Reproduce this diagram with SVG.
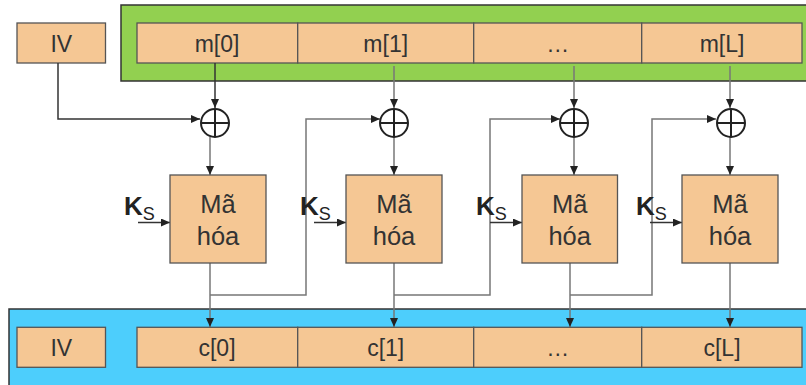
<svg xmlns="http://www.w3.org/2000/svg" width="806" height="385" viewBox="0 0 806 385">
<style>
.cell{fill:#F5C794;stroke:#555;stroke-width:1.3}
.t{font-family:"Liberation Sans",Arial,sans-serif;font-size:23px;fill:#333;text-anchor:middle}
.bt{font-family:"Liberation Sans",Arial,sans-serif;font-size:25.5px;fill:#333;text-anchor:middle}
.k{font-family:"Liberation Sans",Arial,sans-serif;fill:#222}
.ln{fill:none;stroke:#777;stroke-width:1.5}
.dk{fill:none;stroke:#333;stroke-width:1.5}
.x{fill:#fff;stroke:#222;stroke-width:2}
</style>
<defs>
<marker id="ah" markerUnits="userSpaceOnUse" markerWidth="9" markerHeight="8" refX="9" refY="4" orient="auto">
<path d="M0,0 L9,4 L0,8 z" fill="#222"/>
</marker>
</defs>
<rect width="806" height="385" fill="#fff"/>
<g id="plaintext">
<rect x="121" y="5" width="700" height="76" fill="#92D050" stroke="#333" stroke-width="1.5"/>
<rect class="cell" x="137" y="23" width="160.7" height="40"/>
<rect class="cell" x="297.7" y="23" width="176" height="40"/>
<rect class="cell" x="473.7" y="23" width="168" height="40"/>
<rect class="cell" x="641.7" y="23" width="160.3" height="40"/>
<text class="t" x="217" y="52">m[0]</text>
<text class="t" x="385.7" y="52">m[1]</text>
<text class="t" x="557.7" y="52">…</text>
<text class="t" x="722" y="52">m[L]</text>
</g>
<g id="iv-top">
<rect class="cell" x="17" y="23" width="88.5" height="40"/>
<text class="t" x="61.3" y="52">IV</text>
</g>
<g id="ciphertext">
<rect x="9" y="309" width="810" height="80" fill="#4DCEFC" stroke="#333" stroke-width="1.5"/>
<rect class="cell" x="17" y="327.3" width="88.5" height="40"/>
<rect class="cell" x="137" y="327.3" width="160.7" height="40"/>
<rect class="cell" x="297.7" y="327.3" width="176" height="40"/>
<rect class="cell" x="473.7" y="327.3" width="168" height="40"/>
<rect class="cell" x="641.7" y="327.3" width="160.3" height="40"/>
<text class="t" x="61.3" y="356">IV</text>
<text class="t" x="217" y="356">c[0]</text>
<text class="t" x="385.7" y="356">c[1]</text>
<text class="t" x="557.7" y="356">…</text>
<text class="t" x="722" y="356">c[L]</text>
</g>
<g id="connectors">
<path class="dk" d="M58,63 V119 H200" marker-end="url(#ah)"/>
<path class="dk" d="M215,63 V108" marker-end="url(#ah)"/>
<path class="ln" d="M394,66 V108" marker-end="url(#ah)"/>
<path class="ln" d="M574,66 V108" marker-end="url(#ah)"/>
<path class="ln" d="M730,66 V108" marker-end="url(#ah)"/>
<path class="ln" d="M210,137 V175" marker-end="url(#ah)"/>
<path class="ln" d="M394,137 V175" marker-end="url(#ah)"/>
<path class="ln" d="M574,137 V175" marker-end="url(#ah)"/>
<path class="ln" d="M730,137 V175" marker-end="url(#ah)"/>
<path class="ln" d="M210,263 V327" marker-end="url(#ah)"/>
<path class="ln" d="M394,263 V327" marker-end="url(#ah)"/>
<path class="ln" d="M570,263 V327" marker-end="url(#ah)"/>
<path class="ln" d="M730,263 V327" marker-end="url(#ah)"/>
<path class="ln" d="M210,295 H306 V119 H380" marker-end="url(#ah)"/>
<path class="ln" d="M394,295 H490 V119 H560" marker-end="url(#ah)"/>
<path class="ln" d="M570,295 H652 V119 H716" marker-end="url(#ah)"/>
<path class="dk" d="M138,222.5 H170" marker-end="url(#ah)"/>
<path class="dk" d="M314,222.5 H346" marker-end="url(#ah)"/>
<path class="dk" d="M490,222.5 H522" marker-end="url(#ah)"/>
<path class="dk" d="M650,222.5 H682" marker-end="url(#ah)"/>
</g>
<g id="xor1"><circle class="x" cx="215" cy="123" r="14"/><path d="M201,123 H229 M215,109 V137" stroke="#222" stroke-width="2"/></g>
<g id="xor2"><circle class="x" cx="394" cy="123" r="14"/><path d="M380,123 H408 M394,109 V137" stroke="#222" stroke-width="2"/></g>
<g id="xor3"><circle class="x" cx="574" cy="123" r="14"/><path d="M560,123 H588 M574,109 V137" stroke="#222" stroke-width="2"/></g>
<g id="xor4"><circle class="x" cx="731" cy="123" r="14"/><path d="M717,123 H745 M731,109 V137" stroke="#222" stroke-width="2"/></g>
<g id="enc1"><rect class="cell" x="170" y="175" width="96" height="88"/><text class="bt" x="218" y="213">Mã</text><text class="bt" x="218" y="245">hóa</text></g>
<g id="enc2"><rect class="cell" x="346" y="175" width="96" height="88"/><text class="bt" x="394" y="213">Mã</text><text class="bt" x="394" y="245">hóa</text></g>
<g id="enc3"><rect class="cell" x="522" y="175" width="95.5" height="88"/><text class="bt" x="569.7" y="213">Mã</text><text class="bt" x="569.7" y="245">hóa</text></g>
<g id="enc4"><rect class="cell" x="682" y="175" width="96" height="88"/><text class="bt" x="730" y="213">Mã</text><text class="bt" x="730" y="245">hóa</text></g>
<g id="keys">
<text class="k" x="124" y="214.5"><tspan font-size="26" font-weight="bold">K</tspan><tspan font-size="18" dy="5">S</tspan></text>
<text class="k" x="300" y="214.5"><tspan font-size="26" font-weight="bold">K</tspan><tspan font-size="18" dy="5">S</tspan></text>
<text class="k" x="476" y="214.5"><tspan font-size="26" font-weight="bold">K</tspan><tspan font-size="18" dy="5">S</tspan></text>
<text class="k" x="636" y="214.5"><tspan font-size="26" font-weight="bold">K</tspan><tspan font-size="18" dy="5">S</tspan></text>
</g>
</svg>
